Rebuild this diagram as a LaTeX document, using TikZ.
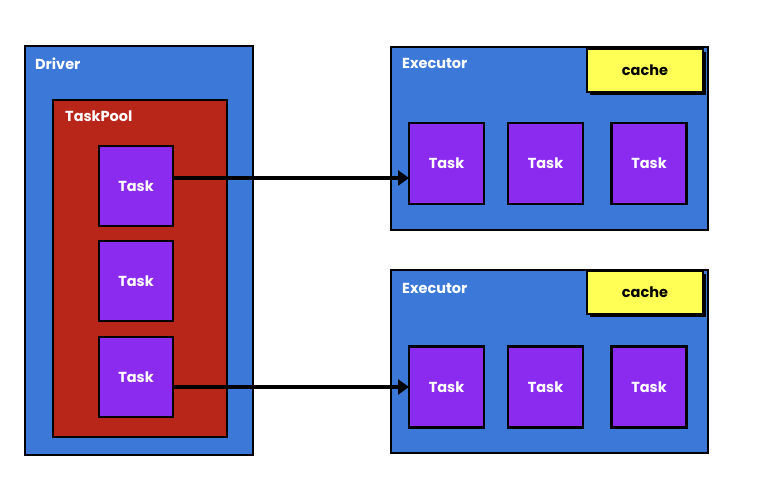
\documentclass[tikz,border=0pt]{standalone}
\usepackage{fontspec}
\setmainfont{Poppins}
\usetikzlibrary{arrows.meta}
\definecolor{bblue}{HTML}{3C78D8}
\definecolor{rred}{HTML}{B8261A}
\definecolor{ppurple}{HTML}{8B2BF0}
\definecolor{yyellow}{HTML}{FFFF55}
\newcommand{\myfont}{\fontsize{14.5}{17}\selectfont\bfseries}
\begin{document}
\begin{tikzpicture}[x=1pt,y=-1pt,
  box/.style={draw=black,line width=2.2pt,inner sep=0pt,outer sep=0pt},
  outerbox/.style={box,fill=bblue},
  poolbox/.style={box,fill=rred},
  taskbox/.style={box,fill=ppurple,minimum width=74pt,minimum height=80pt,text=white,font=\myfont},
  cachebox/.style={box,fill=yyellow,minimum width=116pt,minimum height=43pt,font=\myfont},
  lbl/.style={anchor=base west,text=white,inner sep=0pt,font=\myfont},
  arr/.style={line width=4pt,-{Triangle[length=11pt,width=15pt]}}]
\useasboundingbox (0,0) rectangle (762,478);
\fill[white] (0,0) rectangle (762,478);
% Driver
\node[outerbox,minimum width=228pt,minimum height=409pt] (driver) at (139,250.5) {};
\node[lbl] (driverl) at (35,70) {Driver};
\node[poolbox,minimum width=174pt,minimum height=337pt] (pool) at (140,268.5) {};
\node[lbl] (pooll) at (65,122) {TaskPool};
\node[taskbox] (t1) at (136,186) {Task};
\node[taskbox] (t2) at (136,281) {Task};
\node[taskbox] (t3) at (136,377) {Task};
% Executor 1
\node[outerbox,minimum width=317pt,minimum height=183pt] (ex1) at (549.5,138.5) {};
\node[lbl] (ex1l) at (402,69) {Executor};
\fill[black] (590,52) rectangle (706,95);
\node[cachebox] (c1) at (645,70.5) {cache};
\node[taskbox,minimum width=75pt,minimum height=81pt] (e1t1) at (446.5,163.5) {Task};
\node[taskbox,minimum width=75pt,minimum height=81pt] (e1t2) at (545.5,163.5) {Task};
\node[taskbox,minimum width=75pt,minimum height=81pt] (e1t3) at (649,163.5) {Task};
% Executor 2
\node[outerbox,minimum width=317pt,minimum height=183pt] (ex2) at (549.5,361.5) {};
\node[lbl] (ex2l) at (402,293) {Executor};
\fill[black] (590,274) rectangle (706,317);
\node[cachebox] (c2) at (645,292.5) {cache};
\node[taskbox,minimum width=75pt,minimum height=81pt] (e2t1) at (446.5,387) {Task};
\node[taskbox,minimum width=75pt,minimum height=81pt] (e2t2) at (545.5,387) {Task};
\node[taskbox,minimum width=75pt,minimum height=81pt] (e2t3) at (649,387) {Task};
% arrows
\draw[arr] ([yshift=8pt]t1.east) -- ([yshift=-14.5pt]e1t1.west);
\draw[arr] ([yshift=-10pt]t3.east) -- (e2t1.west);
\end{tikzpicture}
\end{document}
